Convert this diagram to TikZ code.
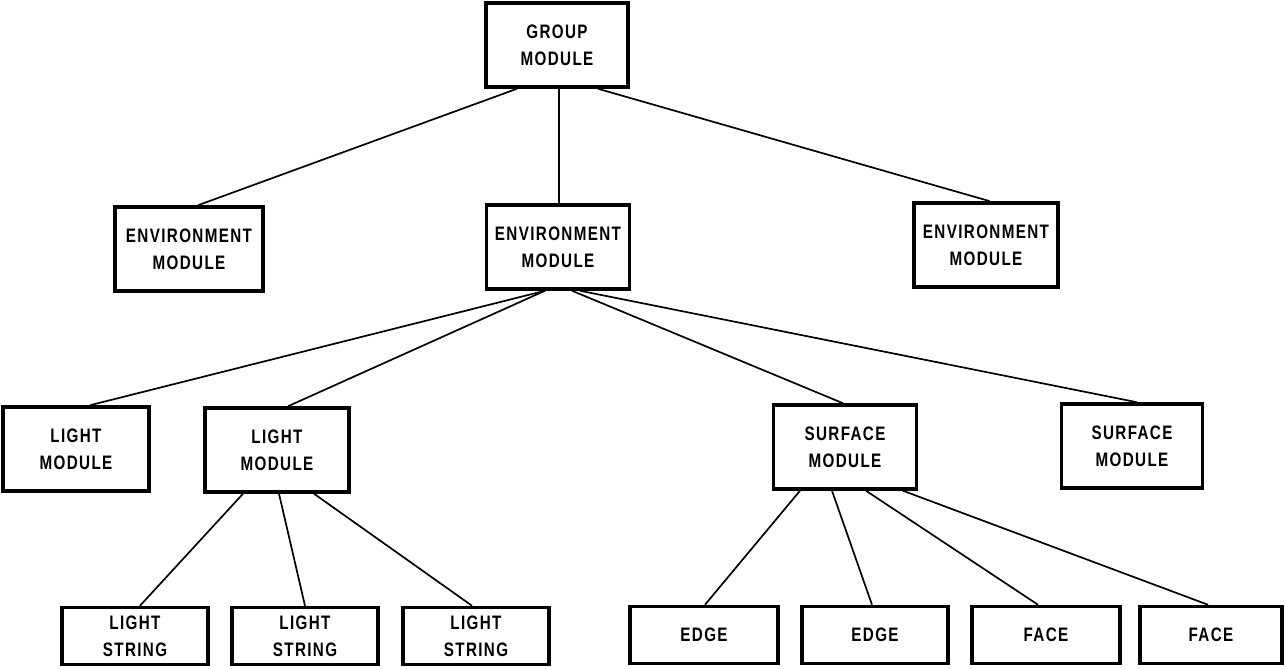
\documentclass[tikz,border=0pt]{standalone}
\usepackage{fontspec}
\newfontfamily\lettering{Liberation Sans}[FakeStretch=0.78, LetterSpace=7]
\begin{document}
\begin{tikzpicture}[x=1pt, y=-1pt,
  box/.style={draw=black, line width=3.5pt, rectangle, inner sep=0pt, align=center,
              font={\lettering\bfseries\fontsize{19.5}{27}\selectfont}},
  midbox/.style={box, minimum width=145pt, minimum height=84pt},
  lowbox/.style={box, minimum width=146pt, minimum height=57pt},
  link/.style={line width=1.7pt, black}]
\useasboundingbox (0,0) rectangle (1286,669);
\fill[white] (0,0) rectangle (1286,669);

% top level
\node[midbox, minimum width=142pt] (g) at (557,45) {GROUP\\MODULE};

% environment level
\node[midbox, minimum width=148pt] (el) at (189,249) {ENVIRONMENT\\MODULE};
\node[midbox, minimum width=143pt] (em) at (558,247) {ENVIRONMENT\\MODULE};
\node[midbox, minimum width=144pt] (er) at (986,245) {ENVIRONMENT\\MODULE};

% light and surface modules
\node[midbox, minimum width=146pt] (l1) at (76,449) {LIGHT\\MODULE};
\node[midbox, minimum width=144pt] (l2) at (277,450) {LIGHT\\MODULE};
\node[midbox, minimum width=143pt] (s1) at (845,447) {SURFACE\\MODULE};
\node[midbox, minimum width=141pt] (s2) at (1132,446) {SURFACE\\MODULE};

% leaves
\node[lowbox] (ls1) at (135,636) {LIGHT\\STRING};
\node[lowbox] (ls2) at (305,636) {LIGHT\\STRING};
\node[lowbox] (ls3) at (476,636) {LIGHT\\STRING};
\node[lowbox, minimum width=148pt] (e1) at (704,635) {EDGE};
\node[lowbox] (e2) at (875,635) {EDGE};
\node[lowbox, minimum width=148pt] (f1) at (1046,635) {FACE};
\node[lowbox, minimum width=142pt] (f2) at (1211,635) {FACE};

% connectors
\draw[link] ([xshift=-40pt]g.south) -- ([xshift=9pt]el.north);
\draw[link] ([xshift=2pt]g.south) -- ([xshift=1pt]em.north);
\draw[link] ([xshift=41pt]g.south) -- ([xshift=4pt]er.north);

\draw[link] ([xshift=-13pt]em.south) -- ([xshift=14pt]l1.north);
\draw[link] ([xshift=-13pt]em.south) -- ([xshift=11pt]l2.north);
\draw[link] ([xshift=14pt]em.south) -- ([xshift=-2pt]s1.north);
\draw[link] ([xshift=22pt]em.south) -- ([xshift=5pt]s2.north);

\draw[link] ([xshift=-34pt]l2.south) -- ([xshift=5pt]ls1.north);
\draw[link] ([xshift=2pt]l2.south) -- (ls2.north);
\draw[link] ([xshift=37pt]l2.south) -- ([xshift=-4pt]ls3.north);

\draw[link] ([xshift=-45pt]s1.south) -- ([xshift=1pt]e1.north);
\draw[link] ([xshift=-13pt]s1.south) -- ([xshift=-3pt]e2.north);
\draw[link] ([xshift=21pt]s1.south) -- ([xshift=-8pt]f1.north);
\draw[link] ([xshift=58pt]s1.south) -- ([xshift=-3pt]f2.north);
\end{tikzpicture}
\end{document}
